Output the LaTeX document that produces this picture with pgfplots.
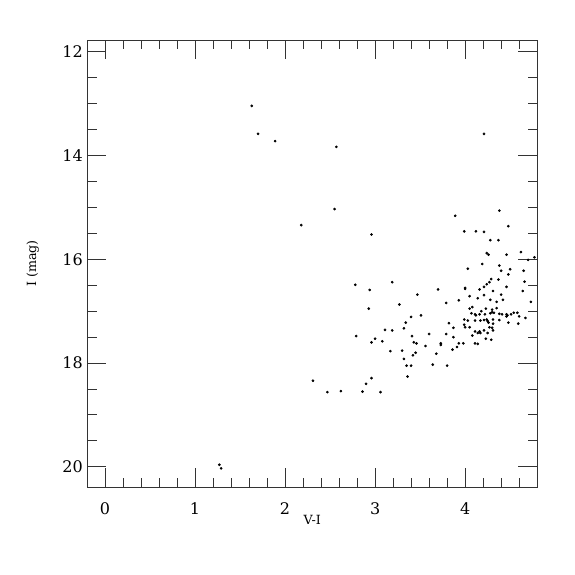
\documentclass[border=0pt]{standalone}
\usepackage{pgfplots}
\pgfplotsset{compat=1.18}
\usepackage{fontspec}
\setmainfont{DejaVu Serif}
\begin{document}
\begin{tikzpicture}
\begin{axis}[
  scale only axis,
  width=337.3pt, height=335.3pt,
  xmin=-0.195, xmax=4.80,
  ymin=11.77, ymax=20.39,
  y dir=reverse,
  xtick={0,1,2,3,4},
  ytick={12,14,16,18,20},
  minor xtick={0.2,0.4,0.6,0.8,1.2,1.4,1.6,1.8,2.2,2.4,2.6,2.8,3.2,3.4,3.6,3.8,4.2,4.4,4.6},
  minor ytick={12.5,13,13.5,14.5,15,15.5,16.5,17,17.5,18.5,19,19.5},
  tick align=inside,
  major tick length=14pt,
  minor tick length=7pt,
  axis line style={black!80, line width=0.75pt},
  every tick/.style={black!80, line width=0.75pt},
  /pgf/number format/assume math mode=true,
  ticklabel style={font=\fontsize{12}{14}\selectfont},
  xticklabel style={yshift=-8.5pt},
  xlabel={V-I}, ylabel={I (mag)},
  label style={font=\fontsize{9.5}{11}\selectfont},
  xlabel style={at={(axis description cs:0.5,-0.0746)}, anchor=center},
  ylabel style={at={(axis description cs:-0.1217,0.5)}, anchor=center},
]
\addplot[only marks, mark=*, mark size=0.8pt, black] table {
x y
1.63 13.04
1.70 13.58
1.89 13.72
2.57 13.83
2.55 15.03
2.18 15.34
2.96 15.52
4.21 13.58
2.78 16.49
2.94 16.59
2.93 16.95
3.11 17.36
2.79 17.48
3.00 17.53
2.96 17.60
3.08 17.58
3.17 17.77
2.31 18.34
2.96 18.29
2.90 18.40
2.47 18.56
2.62 18.54
2.86 18.55
3.06 18.56
3.47 16.68
3.27 16.87
3.79 16.84
3.93 16.79
3.51 17.08
3.40 17.11
3.34 17.22
3.82 17.23
3.19 17.37
3.32 17.33
3.87 17.32
3.60 17.44
3.41 17.48
3.79 17.44
3.87 17.50
3.43 17.60
3.46 17.62
3.56 17.67
3.73 17.62
3.73 17.65
3.93 17.62
3.91 17.69
3.86 17.74
3.30 17.76
3.45 17.80
3.42 17.85
3.68 17.82
3.32 17.92
3.35 18.05
3.40 18.05
3.64 18.03
3.80 18.05
3.36 18.26
3.89 15.16
3.19 16.44
3.70 16.58
4.38 15.06
4.48 15.36
3.99 15.46
4.12 15.46
4.21 15.47
4.28 15.63
4.37 15.63
4.24 15.88
4.26 15.91
4.46 15.91
4.62 15.86
4.70 16.01
4.77 15.96
4.19 16.09
4.03 16.18
4.38 16.12
4.40 16.22
4.50 16.19
4.48 16.29
4.65 16.22
4.66 16.43
4.29 16.38
4.27 16.44
4.24 16.48
4.37 16.39
4.21 16.53
4.00 16.55
4.00 16.57
4.16 16.58
4.46 16.53
4.31 16.61
4.40 16.68
4.64 16.61
4.05 16.71
4.14 16.75
4.21 16.69
4.28 16.78
4.42 16.78
4.35 16.82
4.73 16.82
4.05 16.95
4.08 16.92
4.18 17.00
4.23 16.95
4.30 16.97
4.35 16.94
4.07 17.04
4.11 17.06
4.12 17.08
4.16 17.06
4.22 17.06
4.28 17.04
4.30 17.02
4.32 17.03
4.38 17.05
4.41 17.06
4.46 17.06
4.47 17.08
4.46 17.10
4.51 17.06
4.54 17.03
4.58 17.03
4.60 17.10
4.67 17.13
3.99 17.16
4.03 17.18
4.11 17.18
4.17 17.18
4.21 17.17
4.24 17.16
4.25 17.19
4.26 17.22
4.31 17.16
4.31 17.24
4.38 17.17
4.48 17.22
4.59 17.24
3.99 17.26
4.00 17.31
4.05 17.31
4.11 17.39
4.16 17.39
4.17 17.42
4.21 17.37
4.25 17.42
4.27 17.31
4.30 17.32
4.31 17.37
4.08 17.47
4.14 17.42
4.23 17.53
4.29 17.55
3.98 17.62
4.11 17.62
4.14 17.63
1.27 19.96
1.29 20.03
};
\end{axis}
\path[use as bounding box] ([shift={(-65.6pt,-66pt)}]current axis.south west) rectangle ([shift={(28.3pt,30pt)}]current axis.north east);
\end{tikzpicture}
\end{document}
